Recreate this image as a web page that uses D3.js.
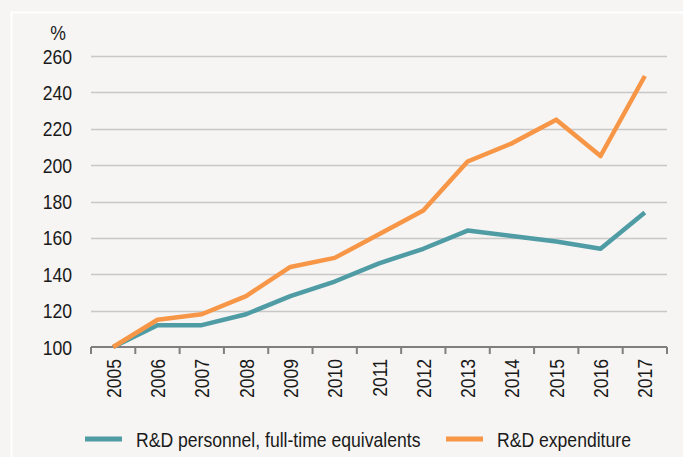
<!DOCTYPE html>
<html>
<head>
<meta charset="utf-8">
<script src="https://cdn.jsdelivr.net/npm/d3@7"></script>
<style>
    body { margin: 0; background: #f6f5f3; }
    svg { display: block; font-family: "Liberation Sans", Arial, sans-serif; }
</style>
</head>
<body>
<svg id="chart"></svg>
<script>
// data
const years = ["2005", "2006", "2007", "2008", "2009", "2010", "2011", "2012", "2013", "2014", "2015", "2016", "2017"];
const personnel = [100, 112, 112, 118, 128, 136, 146, 154, 164, 161, 158, 154, 174];
const expenditure = [100, 115, 118, 128, 144, 149, 162, 175, 202, 212, 225, 205, 249];
const yTicks = [100, 120, 140, 160, 180, 200, 220, 240, 260];
const seriesNames = ["R&D personnel, full-time equivalents", "R&D expenditure"];
const seriesColors = ["#4f9ca5", "#f79646"];

const width = 683, height = 457;
const margin = { top: 56, right: 16, bottom: 110, left: 91 };
const innerW = width - margin.left - margin.right;
const innerH = height - margin.top - margin.bottom;
// reference font is a narrow face: regular sans, stretched vertically
const fontSize = 17.6;
const stretch = 1.19;

const svg = d3.select("#chart").attr("width", width).attr("height", height);

svg.append("rect")
    .attr("width", width).attr("height", height)
    .attr("fill", "#f6f5f3");

// white frame, runs off the right and bottom edges
svg.append("rect")
    .attr("x", 11.5).attr("y", 12.5)
    .attr("width", width).attr("height", height)
    .attr("fill", "none")
    .attr("stroke", "#ffffff")
    .attr("stroke-width", 2);

const chart = svg.append("g")
    .attr("transform", `translate(${margin.left},${margin.top})`);

const xScale = d3.scaleBand().domain(years).range([0, innerW]);
const yScale = d3.scaleLinear().domain([100, 260]).range([innerH, 0]);

// gridlines
chart.selectAll(".grid")
    .data(yTicks.filter(d => d > 100))
    .join("line")
    .attr("class", "grid")
    .attr("x1", 0).attr("x2", innerW)
    .attr("y1", d => Math.round(yScale(d)) + 0.5)
    .attr("y2", d => Math.round(yScale(d)) + 0.5)
    .attr("stroke", "#c8c8c8")
    .attr("stroke-width", 1.5);

// y labels
chart.selectAll(".ylab")
    .data(yTicks)
    .join("text")
    .attr("class", "ylab")
    .attr("transform", d => `translate(-19,${yScale(d)}) scale(1,${stretch})`)
    .attr("dy", "0.36em")
    .attr("text-anchor", "end")
    .attr("font-size", fontSize)
    .attr("fill", "#1a1a1a")
    .text(d => d);

chart.append("text")
    .attr("transform", `translate(-33,-16) scale(1,${stretch})`)
    .attr("text-anchor", "middle")
    .attr("font-size", fontSize)
    .attr("fill", "#1a1a1a")
    .text("%");

// x axis: line plus ticks on band edges
const axisG = chart.append("g").attr("transform", `translate(0,${innerH})`);
axisG.append("line")
    .attr("x1", 0).attr("x2", innerW)
    .attr("stroke", "#7f7f7f").attr("stroke-width", 2);
const edges = years.map(d => xScale(d)).concat([innerW]);
axisG.selectAll(".tick")
    .data(edges)
    .join("line")
    .attr("class", "tick")
    .attr("x1", d => d).attr("x2", d => d)
    .attr("y1", 0).attr("y2", 7)
    .attr("stroke", "#7f7f7f").attr("stroke-width", 2);

axisG.selectAll(".xlab")
    .data(years)
    .join("text")
    .attr("class", "xlab")
    .attr("transform", d => `translate(${xScale(d) + xScale.bandwidth() / 2},12) rotate(-90) scale(1,${stretch})`)
    .attr("text-anchor", "end")
    .attr("dy", "0.36em")
    .attr("font-size", fontSize)
    .attr("fill", "#1a1a1a")
    .text(d => d);

// lines
const line = d3.line()
    .x((d, i) => xScale(years[i]) + xScale.bandwidth() / 2)
    .y(d => yScale(d));

[personnel, expenditure].forEach((s, i) => {
    chart.append("path")
        .datum(s)
        .attr("d", line)
        .attr("fill", "none")
        .attr("stroke", seriesColors[i])
        .attr("stroke-width", 4.5)
        .attr("stroke-linejoin", "round");
});

// legend
const legendX = [85, 446];
const legend = svg.selectAll(".legend")
    .data(seriesNames)
    .join("g")
    .attr("class", "legend")
    .attr("transform", (d, i) => `translate(${legendX[i]},439)`);

legend.append("line")
    .attr("x1", 0).attr("x2", 37)
    .attr("stroke", (d, i) => seriesColors[i])
    .attr("stroke-width", 5);

legend.append("text")
    .attr("transform", `translate(51,0) scale(1,${stretch})`)
    .attr("dy", "0.36em")
    .attr("font-size", fontSize)
    .attr("fill", "#1a1a1a")
    .text(d => d);
</script>
</body>
</html>
